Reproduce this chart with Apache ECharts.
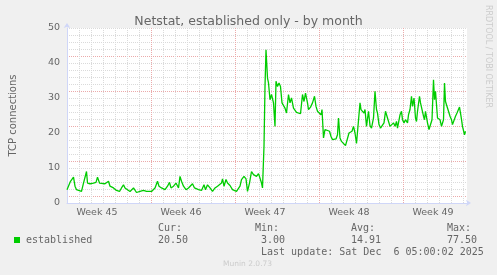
<!DOCTYPE html>
<html>
<head>
<meta charset="utf-8">
<script src="https://cdn.jsdelivr.net/npm/echarts@6/dist/echarts.min.js"></script>
<style>
html,body{margin:0;padding:0;background:#F0F0F0;}
#chart{width:497px;height:275px;}
</style>
</head>
<body>
<div id="chart"></div>
<script>
// ---- data (hours since left edge of the month window, TCP connections) ----
var sampleHours = [0,3,7,13,16,19,23,29,33,36,39,41,46,53,58,61,65,69,76,83,86,93,99,105,109,113,116,119,126,133,136,139,146,153,159,163,169,176,181,184,189,196,201,205,208,213,218,223,226,229,233,238,243,247,251,255,258,263,269,274,277,281,286,291,296,301,305,309,311,314,318,321,326,331,335,339,343,346,349,354,358,361,365,369,373,376,379,383,386,389,391,
394,396,398,401,403,406,409,413,416,418,421,424,427,430,433,436,439,443,446,449,453,456,459,463,467,471,474,477,481,483,487,491,495,498,501,505,508,510,513,516,519,525,528,531,534,538,541,543,546,549,553,557,561,564,567,570,573,576,579,583,586,588,591,594,596,599,603,606,609,613,616,619,621,624,627,631,634,637,641,643,646,649,653,656,659,661,666,669,671,674,677,681,683,686,689,691,694,697,699,701,705,707,710,713,715,717,721,724,727,730,733,735,737,741,743,746,749,753,755,757,761,763,766,769,771,774,777,780,783,785,788,791,795,797];
var established = [3.8,3.3,6.2,7.4,4.8,3.8,3.3,3.3,5.7,5.5,9.0,5.7,5.5,5.7,5.9,7.4,5.7,5.2,5.5,6.2,4.8,4.3,3.6,3.3,4.3,5.2,4.3,3.8,3.3,4.3,3.8,3.0,3.3,3.6,3.3,3.8,3.3,4.3,6.2,4.8,4.3,3.8,4.8,5.9,4.3,4.8,5.7,4.3,7.6,6.2,4.8,3.8,4.3,4.8,5.5,4.3,3.8,3.8,3.6,5.2,3.8,5.2,4.3,3.3,4.3,4.8,4.3,5.7,6.9,4.8,6.7,5.7,5.0,3.8,4.3,3.3,3.8,4.8,6.7,7.6,6.9,3.3,5.7,9.0,8.1,8.6,7.6,8.4,7.1,5.7,4.3,
16.2,33.3,43.8,35.7,34.3,29.5,31.0,28.6,21.9,34.8,33.3,34.3,33.3,28.6,28.1,27.1,25.7,31.0,28.6,30.0,27.1,27.6,25.9,25.5,25.5,31.0,29.0,31.4,28.6,26.7,27.4,28.6,30.5,27.6,26.2,26.2,25.2,26.7,18.6,21.0,21.0,20.5,19.0,18.1,17.6,18.3,19.5,24.3,18.6,17.6,17.1,16.4,16.7,20.0,19.5,20.5,21.9,20.0,17.0,17.1,28.6,26.7,27.1,25.7,26.7,21.9,26.2,22.1,21.4,24.3,31.9,26.7,25.7,22.4,21.4,21.9,22.9,26.2,24.3,24.8,21.9,21.4,22.9,21.9,23.3,21.4,25.2,26.2,23.8,22.9,23.8,22.9,25.2,26.7,30.5,27.6,30.0,24.3,23.3,26.2,30.5,28.6,29.0,24.8,23.8,26.2,22.9,21.0,21.0,23.8,35.2,29.5,31.9,24.3,24.8,23.8,21.9,23.8,34.3,29.0,29.5,26.2,24.8,23.8,22.4,21.9,24.8,25.7,25.2,27.4,24.8,21.9,19.5,20.5];

var weekLabels = ['Week 45','Week 46','Week 47','Week 48','Week 49'];
var weekStartHours = [-24,144,312,480,648];
var yTickLabels = [0,10,20,30,40,50];

var titleText = 'Netstat, established only - by month';
var yAxisTitle = 'TCP connections';
var seriesName = 'established';
var statHeads = ['Cur:','Min:','Avg:','Max:'];
var statValues = ['20.50','3.00','14.91','77.50'];
var lastUpdate = 'Last update: Sat Dec  6 05:00:02 2025';
var muninVersion = 'Munin 2.0.73';
var sideText = 'RRDTOOL / TOBI OETIKER';

// ---- chart ----
var weekCenters = weekStartHours.map(function(s){return s+84;});
var data = sampleHours.map(function(h,i){return [h, established[i]];});
var RED = '#EBAAAA', GRAY = '#DADADA', AXIS = '#CFD6F8', FONT = '#666666';
var SANS = 'DejaVu Sans', MONO = 'DejaVu Sans Mono';

var chart = echarts.init(document.getElementById('chart'), null, {renderer:'canvas'});
chart.setOption({
  animation:false,
  backgroundColor:'#F0F0F0',
  title:{text:titleText,left:'center',top:10,textStyle:{fontFamily:SANS,fontSize:12.5,fontWeight:'normal',color:FONT}},
  grid:{left:67,top:28,width:400,height:175,show:true,backgroundColor:'#FFFFFF',borderWidth:0},
  xAxis:[{
    type:'value',min:0,max:800,interval:12,position:'bottom',
    axisLine:{show:true,lineStyle:{color:AXIS,width:1},symbol:['none','arrow'],symbolSize:[5,5],symbolOffset:[0,4]},
    axisTick:{show:false},
    splitLine:{show:false},
    axisLabel:{show:true,interval:0,margin:5,color:FONT,fontFamily:SANS,fontSize:9.5,showMinLabel:false,showMaxLabel:false,
      formatter:function(v){var i=weekCenters.indexOf(v);return i>=0?weekLabels[i]:'';}}
  },{
    type:'value',min:0,max:800,interval:24,position:'top',
    axisLine:{show:false},axisTick:{show:false},axisLabel:{show:false},
    splitLine:{show:true,showMinLine:false,showMaxLine:false,lineStyle:{color:[GRAY,GRAY,GRAY,GRAY,GRAY,GRAY,RED],width:1,type:[1,1]}}
  }],
  yAxis:{
    type:'value',min:0,max:50,interval:2,
    name:yAxisTitle,nameLocation:'middle',nameGap:49,
    nameTextStyle:{fontFamily:SANS,fontSize:10,color:FONT},
    axisLine:{show:true,lineStyle:{color:AXIS,width:1},symbol:['none','arrow'],symbolSize:[5,5],symbolOffset:[0,5]},
    axisTick:{show:false},
    axisLabel:{margin:7,color:FONT,fontFamily:SANS,fontSize:9.5,
      formatter:function(v){return yTickLabels.indexOf(v)>=0?String(v):'';}},
    splitLine:{show:true,showMinLine:false,lineStyle:{color:[RED,GRAY,GRAY,GRAY,GRAY],width:1,type:[1,1]}}
  },
  series:[{
    name:seriesName,type:'line',xAxisIndex:0,data:data,showSymbol:false,
    lineStyle:{color:'#00CC00',width:1.3},itemStyle:{color:'#00CC00'},z:5
  }],
  graphic:[
    {type:'rect',left:14,top:237,shape:{width:6,height:6},style:{fill:'#00CC00'}},
    {type:'text',x:26,y:240,style:{text:seriesName,font:'10px '+MONO,fill:FONT,textVerticalAlign:'middle'}},
    {type:'text',x:158,y:228,style:{text:statHeads[0],font:'10px '+MONO,fill:FONT,textVerticalAlign:'middle'}},
    {type:'text',x:158,y:240,style:{text:statValues[0],font:'10px '+MONO,fill:FONT,textVerticalAlign:'middle'}},
    {type:'text',x:255,y:228,style:{text:statHeads[1],font:'10px '+MONO,fill:FONT,textVerticalAlign:'middle'}},
    {type:'text',x:261,y:240,style:{text:statValues[1],font:'10px '+MONO,fill:FONT,textVerticalAlign:'middle'}},
    {type:'text',x:351,y:228,style:{text:statHeads[2],font:'10px '+MONO,fill:FONT,textVerticalAlign:'middle'}},
    {type:'text',x:351,y:240,style:{text:statValues[2],font:'10px '+MONO,fill:FONT,textVerticalAlign:'middle'}},
    {type:'text',x:447,y:228,style:{text:statHeads[3],font:'10px '+MONO,fill:FONT,textVerticalAlign:'middle'}},
    {type:'text',x:447,y:240,style:{text:statValues[3],font:'10px '+MONO,fill:FONT,textVerticalAlign:'middle'}},
    {type:'text',x:261,y:252,style:{text:lastUpdate,font:'10px '+MONO,fill:FONT,textVerticalAlign:'middle'}},
    {type:'text',x:223,y:264,style:{text:muninVersion,font:'7.5px '+SANS,fill:'#CCCCCC',textVerticalAlign:'middle'}},
    {type:'text',x:488.5,y:5,rotation:-Math.PI/2,style:{text:sideText,font:'8px '+SANS,fill:'#CCCCCC',textAlign:'left',textVerticalAlign:'middle'}}
  ]
});
</script>
</body>
</html>
